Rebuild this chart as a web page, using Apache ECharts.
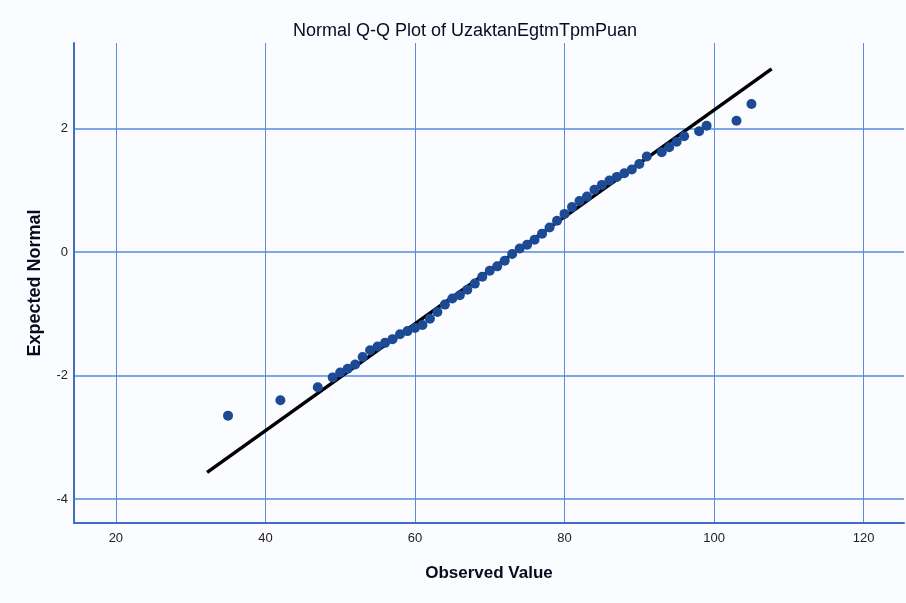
<!DOCTYPE html>
<html>
<head>
<meta charset="utf-8">
<script src="https://cdn.jsdelivr.net/npm/echarts@6/dist/echarts.min.js"></script>
<style>
  html, body { margin: 0; padding: 0; background: #fafcff; }
  #main { width: 906px; height: 603px; }
</style>
</head>
<body>
<div id="main"></div>
<script>
var observed = [35, 42, 47, 49, 50, 51, 52, 53, 54, 55, 56, 57, 58, 59, 60, 61, 62, 63, 64, 65,
    66, 67, 68, 69, 70, 71, 72, 73, 74, 75, 76, 77, 78, 79, 80, 81, 82, 83, 84, 85,
    86, 87, 88, 89, 90, 91, 93, 94, 95, 96, 98, 99, 103, 105];
var expected = [-2.65, -2.40, -2.19, -2.03, -1.95, -1.89, -1.82, -1.70, -1.59, -1.53, -1.47, -1.41, -1.33, -1.28, -1.23, -1.18, -1.08, -0.97, -0.85, -0.75,
    -0.70, -0.61, -0.51, -0.40, -0.30, -0.23, -0.14, -0.03, 0.06, 0.12, 0.20, 0.30, 0.40, 0.51, 0.62, 0.73, 0.83, 0.90, 1.01, 1.09,
    1.16, 1.22, 1.28, 1.34, 1.43, 1.55, 1.62, 1.70, 1.79, 1.88, 1.96, 2.05, 2.13, 2.40];
// reference line endpoints
var lineX = [32.2, 107.7];
var lineY = [-3.57, 2.97];
// tick labels
var xTicks = [20, 40, 60, 80, 100, 120];
var yTicks = [-4, -2, 0, 2];

var points = observed.map(function (v, i) { return [v, expected[i]]; });
var refLine = lineX.map(function (v, i) { return [v, lineY[i]]; });

var font = '"Liberation Sans", Arial, sans-serif';
var chart = echarts.init(document.getElementById('main'));
var option = {
    backgroundColor: '#fafcff',
    animation: false,
    title: {
        text: 'Normal Q-Q Plot of UzaktanEgtmTpmPuan',
        left: 288,
        top: 17,
        textStyle: { fontFamily: font, fontSize: 18, fontWeight: 'normal', color: '#0a0a1e' }
    },
    grid: { left: 74, right: 2, top: 43, bottom: 80, containLabel: false },
    xAxis: {
        type: 'value',
        min: 14.4,
        max: 125.4,
        name: 'Observed Value',
        nameLocation: 'middle',
        nameGap: 42,
        nameTextStyle: { fontFamily: font, fontSize: 17, fontWeight: 'bold', color: '#0a0a1e' },
        axisLine: { show: true, onZero: false, lineStyle: { color: '#3f6fc4', width: 2 } },
        axisTick: { show: false, customValues: xTicks },
        axisLabel: { customValues: xTicks, fontFamily: font, fontSize: 13, color: '#222', margin: 9 },
        splitLine: { show: true, lineStyle: { color: '#5b8cdc', width: 1 } }
    },
    yAxis: {
        type: 'value',
        min: -4.39,
        max: 3.39,
        name: 'Expected Normal',
        nameLocation: 'middle',
        nameGap: 30,
        nameTextStyle: { fontFamily: font, fontSize: 18, fontWeight: 'bold', color: '#0a0a1e' },
        axisLine: { show: true, onZero: false, lineStyle: { color: '#3f6fc4', width: 2 } },
        axisTick: { show: false, customValues: yTicks },
        axisLabel: { customValues: yTicks, fontFamily: font, fontSize: 13, color: '#222', margin: 6 },
        splitLine: { show: true, lineStyle: { color: '#7ea6e8', width: 2 } }
    },
    series: [
        {
            type: 'line',
            data: refLine,
            symbol: 'none',
            lineStyle: { color: '#000000', width: 3.5 },
            z: 3
        },
        {
            type: 'scatter',
            data: points,
            symbol: 'circle',
            symbolSize: 10,
            itemStyle: { color: '#1d4a94', opacity: 1 },
            z: 4
        }
    ]
};
chart.setOption(option);
</script>
</body>
</html>
